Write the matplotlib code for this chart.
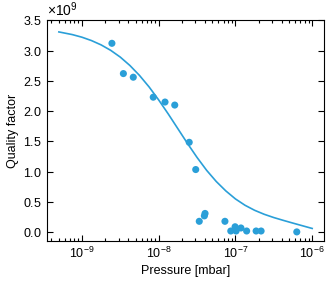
import matplotlib
matplotlib.use("Agg")
import matplotlib.pyplot as plt
import numpy as np
from matplotlib.ticker import ScalarFormatter, LogLocator, FixedLocator

plt.rcParams['font.family'] = ['Liberation Sans', 'DejaVu Sans']
plt.rcParams['mathtext.fontset'] = 'custom'
plt.rcParams['mathtext.rm'] = 'Liberation Sans'

# measured data
pressure = [2.46e-9, 3.47e-9, 4.67e-9, 8.5e-9, 1.21e-8, 1.62e-8, 2.5e-8, 3.04e-8,
            3.38e-8, 3.94e-8, 4.02e-8, 7.3e-8, 8.7e-8, 9.9e-8, 1.02e-7, 1.18e-7,
            1.4e-7, 1.86e-7, 2.16e-7, 6.3e-7]
quality = [3.12e9, 2.62e9, 2.56e9, 2.23e9, 2.15e9, 2.10e9, 1.485e9, 1.035e9,
           0.18e9, 0.27e9, 0.31e9, 0.18e9, 0.02e9, 0.09e9, 0.02e9, 0.07e9,
           0.02e9, 0.02e9, 0.02e9, 0.005e9]

# fit curve, log10 of pressure and quality factor
fit_log_pressure = [-9.3, -9.125, -9.0, -8.875, -8.75, -8.625, -8.5, -8.375, -8.25,
                    -8.125, -8.0, -7.875, -7.75, -7.625, -7.5, -7.375, -7.25,
                    -7.125, -7.0, -6.875, -6.75, -6.625, -6.5, -6.375, -6.25,
                    -6.125, -6.0]
fit_quality = [3.308e9, 3.264e9, 3.221e9, 3.165e9, 3.094e9, 3.004e9, 2.892e9, 2.754e9,
               2.590e9, 2.400e9, 2.185e9, 1.953e9, 1.710e9, 1.467e9, 1.235e9, 1.022e9,
               0.838e9, 0.682e9, 0.550e9, 0.445e9, 0.362e9, 0.296e9, 0.242e9,
               0.195e9, 0.150e9, 0.106e9, 0.062e9]

color = '#2a9fd8'

fig = plt.figure(figsize=(3.33, 2.82), dpi=100)
ax = fig.add_axes([0.140, 0.1465, 0.834, 0.7815])

ax.plot(10.0 ** np.array(fit_log_pressure), fit_quality, color=color, lw=1.2,
        zorder=2, solid_joinstyle='round')
ax.scatter(pressure, quality, s=26, color=color, edgecolors='none', zorder=3)

ax.set_xscale('log')
ax.set_xlim(3.47e-10, 1.44e-6)
ax.set_ylim(-0.14e9, 3.5e9)
ax.set_yticks(np.arange(0, 3.51e9, 0.5e9))

fmt = ScalarFormatter(useMathText=True)
fmt.set_powerlimits((0, 0))
ax.yaxis.set_major_formatter(fmt)
ax.yaxis.get_offset_text().set_fontsize(10)

ax.xaxis.set_major_locator(FixedLocator([1e-9, 1e-8, 1e-7, 1e-6]))
ax.xaxis.set_minor_locator(LogLocator(base=10, subs=np.arange(2, 10), numticks=10))

ax.tick_params(which='both', direction='in', top=True, right=True, labelsize=9, width=0.8)
ax.tick_params(which='major', length=4.5)
ax.tick_params(which='minor', length=2.5)
ax.tick_params(axis='y', which='minor', left=False, right=False)
for s in ax.spines.values():
    s.set_linewidth(0.8)

ax.set_xlabel('Pressure [mbar]', fontsize=9, labelpad=3)
ax.set_ylabel('Quality factor', fontsize=9, labelpad=3)

fig.savefig('out.png', dpi=100)
